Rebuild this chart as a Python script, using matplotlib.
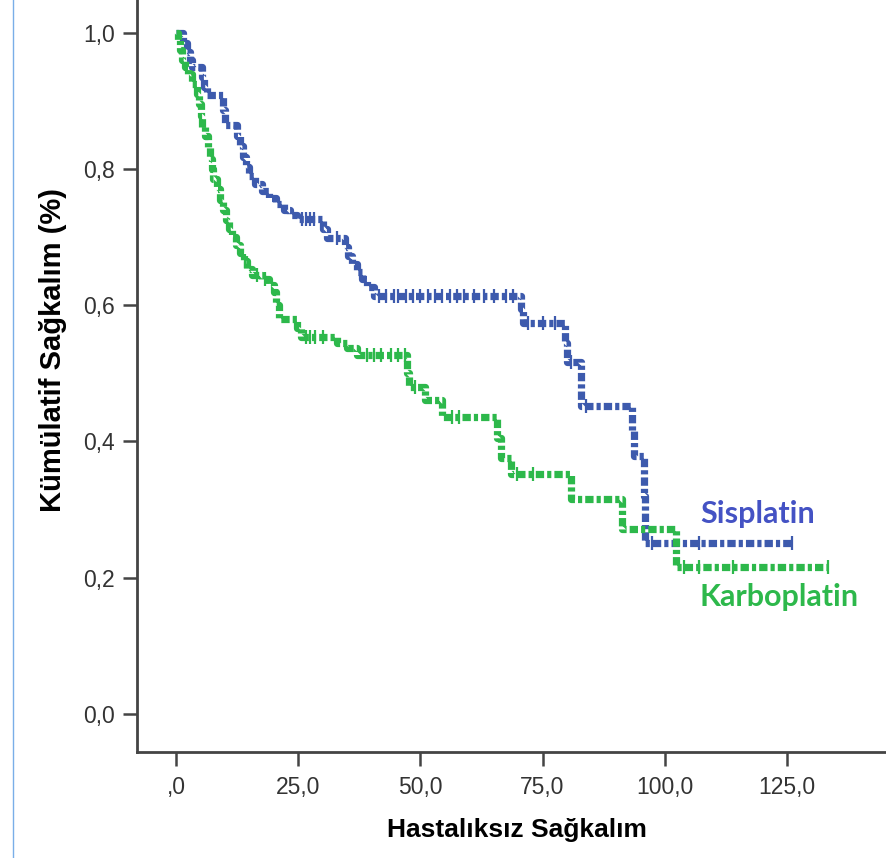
import numpy as np
import matplotlib
matplotlib.use("Agg")
import matplotlib.pyplot as plt
from matplotlib.lines import Line2D

plt.rcParams["font.family"] = ["Liberation Sans", "DejaVu Sans"]
plt.rcParams["lines.scale_dashes"] = False

# Sisplatin: event times and survival after each drop
sis_time = [0, 1.5, 2.2, 2.8, 3.2, 5.3, 5.8, 6.3, 9.6, 10.0, 12.4, 13.0, 13.6, 14.3,
            15.0, 16.2, 17.5, 19.0, 20.5, 22.0, 23.3, 24.8, 30.0, 30.8, 34.6, 35.2,
            36.0, 37.0, 38.0, 39.0, 40.5, 70.5, 71.0, 79.6, 80.0, 82.8, 93.3, 93.8,
            95.8, 96.0, 126.0]
sis_surv = [1.0, 0.985, 0.972, 0.960, 0.950, 0.935, 0.920, 0.909, 0.887, 0.865, 0.848,
            0.833, 0.818, 0.803, 0.790, 0.778, 0.768, 0.758, 0.748, 0.740, 0.733, 0.726,
            0.712, 0.699, 0.685, 0.672, 0.660, 0.649, 0.638, 0.627, 0.614, 0.594, 0.574,
            0.545, 0.517, 0.452, 0.415, 0.379, 0.320, 0.251, 0.251]
sis_cens = [25.8, 26.6, 27.4, 28.2, 33.0, 41.5, 43.0, 44.5, 45.5, 47.0, 48.5, 50.0,
            51.5, 53.0, 54.5, 56.0, 57.5, 59.0, 61.0, 63.0, 65.0, 67.5, 69.0, 72.0,
            75.0, 77.5, 80.8, 84.0, 97.5, 107.0, 126.0]

# Karboplatin
karb_time = [0, 0.3, 0.8, 1.3, 1.8, 2.5, 3.3, 4.2, 4.6, 5.0, 5.4, 6.0, 6.6, 7.0, 7.3,
             7.6, 8.3, 8.9, 9.5, 10.2, 10.8, 11.5, 12.3, 13.0, 13.8, 14.6, 15.5, 17.5,
             19.0, 20.0, 20.5, 21.0, 24.8, 25.5, 33.0, 35.0, 37.0, 47.3, 47.6, 51.0,
             54.4, 65.7, 66.5, 68.5, 80.8, 91.3, 102.4, 133.4]
karb_surv = [1.0, 0.99, 0.975, 0.96, 0.95, 0.94, 0.925, 0.91, 0.895, 0.878, 0.862,
             0.848, 0.832, 0.815, 0.800, 0.785, 0.770, 0.755, 0.740, 0.725, 0.712,
             0.700, 0.688, 0.676, 0.665, 0.653, 0.645, 0.638, 0.630, 0.620, 0.600,
             0.580, 0.567, 0.553, 0.545, 0.537, 0.527, 0.500, 0.480, 0.461, 0.436,
             0.405, 0.375, 0.352, 0.316, 0.271, 0.216, 0.216]
karb_cens = [14.2, 16.5, 18.2, 26.5, 27.5, 28.5, 30.0, 39.0, 40.5, 42.0, 44.0, 45.5,
             46.8, 48.8, 56.5, 58.0, 69.8, 73.0, 104.0, 107.0, 114.0, 133.4]

xticks = [0, 25, 50, 75, 100, 125]
xtick_labels = [",0", "25,0", "50,0", "75,0", "100,0", "125,0"]
yticks = [0.0, 0.2, 0.4, 0.6, 0.8, 1.0]
ytick_labels = ["0,0", "0,2", "0,4", "0,6", "0,8", "1,0"]

blue = "#3d5aad"
green = "#2db84b"

fig = plt.figure(figsize=(8.86, 8.58), dpi=100)
ax = fig.add_axes([137 / 886, 1 - 752 / 858, 1 - 137 / 886, 752 / 858])

dash = (0, (6, 2.2, 3, 2.2))
for t, s, c, col in [(sis_time, sis_surv, sis_cens, blue),
                     (karb_time, karb_surv, karb_cens, green)]:
    ax.step(t, s, where="post", color=col, lw=5.2, linestyle=dash,
            solid_capstyle="butt", dash_capstyle="butt")
    t = np.array(t)
    s = np.array(s)
    idx = np.searchsorted(t, c, side="right") - 1
    ax.plot(c, s[idx], linestyle="none", marker="|", markersize=10,
            markeredgewidth=1.6, color=col)

ax.set_xlim(-8.0, 145.3)
ax.set_ylim(-0.056, 1.048)
ax.set_xticks(xticks)
ax.set_xticklabels(xtick_labels)
ax.set_yticks(yticks)
ax.set_yticklabels(ytick_labels)
ax.tick_params(axis="both", direction="out", length=10, width=1.8, color="#444444",
               labelsize=16.5, labelcolor="#333333")
ax.tick_params(axis="x", pad=7)
ax.tick_params(axis="y", pad=6)
for side in ["top", "right"]:
    ax.spines[side].set_visible(False)
for side in ["left", "bottom"]:
    ax.spines[side].set_linewidth(2)
    ax.spines[side].set_color("#444444")

ax.text(119, 0.2935, "Sisplatin", color="#4452c4", fontsize=22, fontweight="bold",
        family=["Lato", "DejaVu Sans"], ha="center", va="center")
ax.text(123.4, 0.1717, "Karboplatin", color="#2db84b", fontsize=22, fontweight="bold",
        family=["Lato", "DejaVu Sans"], ha="center", va="center")

fig.text(517 / 886, 1 - 830 / 858, "Hastalıksız Sağkalım", fontsize=19,
         fontweight="bold", ha="center", va="center")
fig.text(53 / 886, 1 - 350 / 858, "Kümülatif Sağkalım (%)", fontsize=21,
         fontweight="bold", ha="center", va="center", rotation=90)

# thin blue border line at the left of the screenshot
fig.add_artist(Line2D([13 / 886, 13 / 886], [0, 1], color="#7aaee8", lw=1))

fig.savefig("out.png", dpi=100)
